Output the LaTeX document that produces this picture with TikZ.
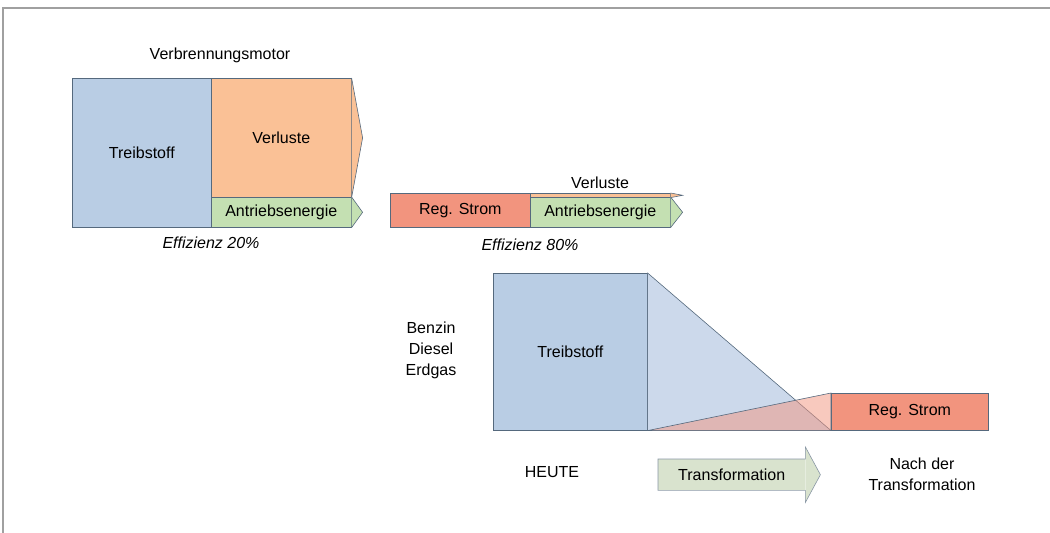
\documentclass[tikz,border=0pt]{standalone}
\usepackage{fontspec}
\setmainfont{Liberation Sans}
\usetikzlibrary{shapes,arrows}
\definecolor{fuelblue}{RGB}{185,205,228}
\definecolor{wedgeblue}{RGB}{204,217,235}
\definecolor{lossorange}{RGB}{250,193,150}
\definecolor{drivegreen}{RGB}{196,224,178}
\definecolor{stromred}{RGB}{242,148,126}
\definecolor{arrowgreen}{RGB}{217,227,206}
\definecolor{edge}{RGB}{85,105,125}
\definecolor{framegray}{RGB}{160,160,160}
\tikzstyle{block} = [rectangle, draw=edge, line width=0.6pt, inner sep=0pt, anchor=north west]
\tikzstyle{tip} = [draw=edge, line width=0.6pt]
\tikzstyle{txt} = [inner sep=0pt, align=center]

\begin{document}
\begin{tikzpicture}[x=1pt, y=-1pt, font=\fontsize{16}{21}\selectfont]
		\useasboundingbox (0,0) rectangle (1050,533);
		\draw [framegray, line width=1.3pt] (3,533) -- (3,8) -- (1050,8);

		% Verbrennungsmotor
		\node [txt] (vmtitle) at (220,55) {Verbrennungsmotor};
		\node [block, fill=fuelblue, minimum width=139pt, minimum height=149pt] (fuel1) at (72,78) {Treibstoff};
		\node [block, fill=lossorange, minimum width=140pt, minimum height=119pt] (loss1) at (211,78) {Verluste};
		\node [block, fill=drivegreen, minimum width=140pt, minimum height=30pt] (drive1) at (211,197) {Antriebsenergie};
		\filldraw [tip, fill=lossorange] (loss1.north east) -- ([xshift=11pt]loss1.east) -- (loss1.south east);
		\filldraw [tip, fill=drivegreen] (drive1.north east) -- ([xshift=11pt]drive1.east) -- (drive1.south east);
		\node [txt, font=\fontsize{16}{21}\selectfont\itshape] (eff1) at (211,243) {Effizienz 20\%};

		% Elektromotor
		\node [block, fill=stromred, minimum width=140pt, minimum height=34pt] (strom2) at (390,193) {Reg. Strom};
		\node [block, fill=lossorange, minimum width=140pt, minimum height=4pt] (loss2) at (530,193) {};
		\node [block, fill=drivegreen, minimum width=140pt, minimum height=30pt] (drive2) at (530,197) {Antriebsenergie};
		\filldraw [tip, fill=lossorange] (loss2.north east) -- ([xshift=12pt]loss2.east) -- (loss2.south east);
		\filldraw [tip, fill=drivegreen] (drive2.north east) -- ([xshift=12pt]drive2.east) -- (drive2.south east);
		\node [txt] (loss2text) at (600,183) {Verluste};
		\node [txt, font=\fontsize{16}{21}\selectfont\itshape] (eff2) at (530,245) {Effizienz 80\%};

		% Transformation
		\node [block, fill=fuelblue, minimum width=154pt, minimum height=157pt] (fuel3) at (493,273) {Treibstoff};
		\node [block, fill=stromred, minimum width=157pt, minimum height=37pt] (strom3) at (831,393) {Reg. Strom};
		\filldraw [tip, fill=wedgeblue] (fuel3.north east) -- (strom3.south west) -- (fuel3.south east) -- cycle;
		\filldraw [tip, fill=stromred, fill opacity=0.5] (fuel3.south east) -- (strom3.north west) -- (strom3.south west) -- cycle;
		\node [txt] (fuels) at (431,350) {Benzin\\Diesel\\Erdgas};
		\node [txt] (today) at (552,472) {HEUTE};
		\node [rectangle, fill=arrowgreen, inner sep=0pt, anchor=north west, minimum width=147pt, minimum height=31pt] (trans) at (658,459) {Transformation};
		\fill [arrowgreen] (trans.north east) -- ([yshift=12pt]trans.north east) -- ([xshift=15pt]trans.east) -- ([yshift=-12pt]trans.south east) -- (trans.south east) -- cycle;
		\draw [tip, draw=edge!70] (trans.north west) -- (trans.north east) -- ([yshift=12pt]trans.north east) -- ([xshift=15pt]trans.east) -- ([yshift=-12pt]trans.south east) -- (trans.south east) -- (trans.south west) -- cycle;
		\node [txt] (after) at (922,474) {Nach der\\Transformation};
	\end{tikzpicture}
\end{document}
